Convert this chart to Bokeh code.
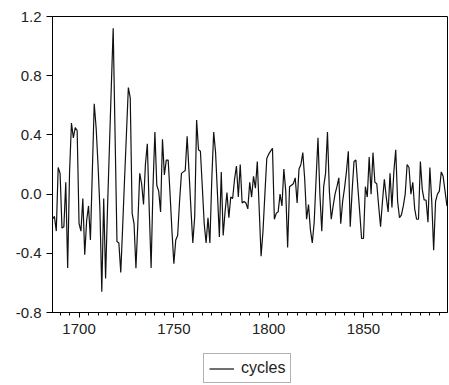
from bokeh.plotting import figure
from bokeh.layouts import column
from bokeh.models import FixedTicker, PrintfTickFormatter, Legend, LegendItem, Range1d
from bokeh.embed import file_html
from bokeh.resources import INLINE

years = list(range(1686, 1895))
cycles = [
    -0.17, -0.15, -0.25, 0.18, 0.14, -0.23, -0.22, 0.08, -0.50, 0.15,
    0.48, 0.38, 0.45, 0.43, -0.20, -0.25, -0.03, -0.41, -0.18, -0.08,
    -0.31, 0.15, 0.61, 0.45, 0.20, -0.10, -0.66, -0.03, -0.57, -0.10,
    0.31, 0.72, 1.12, 0.40, -0.32, -0.33, -0.53, -0.22, 0.10, 0.41,
    0.72, 0.65, -0.13, -0.20, -0.50, -0.20, 0.14, 0.07, -0.07, 0.20,
    0.34, -0.10, -0.50, 0.05, 0.42, 0.06, 0.02, -0.12, 0.37, 0.13,
    0.23, 0.23, 0.00, -0.25, -0.47, -0.31, -0.28, -0.05, 0.14, 0.15,
    0.16, 0.39, 0.15, -0.10, -0.33, -0.15, 0.50, 0.30, 0.29, 0.05,
    -0.20, -0.33, -0.16, -0.33, 0.10, 0.42, 0.28, 0.00, -0.29, 0.15,
    -0.28, -0.12, 0.01, -0.16, -0.02, -0.03, 0.10, 0.19, -0.02, 0.20,
    -0.06, -0.05, -0.06, -0.10, 0.08, -0.02, 0.12, 0.04, 0.22, -0.10,
    -0.42, -0.25, 0.00, 0.24, 0.27, 0.29, 0.31, -0.17, -0.13, -0.12,
    0.00, -0.08, 0.17, 0.02, -0.36, 0.05, 0.06, 0.07, 0.11, -0.06,
    0.17, 0.20, 0.28, 0.10, -0.17, -0.07, -0.24, -0.33, -0.19, 0.10,
    0.38, 0.00, -0.25, 0.05, 0.14, 0.42, 0.02, -0.17, -0.08, 0.00,
    0.05, 0.11, -0.20, -0.05, 0.04, 0.15, 0.29, -0.22, 0.02, 0.22,
    0.23, 0.05, -0.12, -0.30, -0.30, 0.05, -0.02, 0.25, 0.00, 0.28,
    0.08, 0.07, -0.08, -0.22, -0.05, 0.10, -0.02, -0.12, 0.14, -0.09,
    0.15, 0.30, -0.05, -0.16, -0.14, -0.08, 0.00, 0.20, 0.18, 0.00,
    0.08, -0.10, -0.17, -0.17, 0.22, 0.03, -0.04, -0.04, -0.19, 0.18,
    -0.05, -0.38, -0.05, 0.00, 0.02, 0.15, 0.12, 0.02, -0.08,
]
x_major = [1700, 1750, 1800, 1850]
x_minor = list(range(1690, 1895, 5))
y_ticks = [-0.8, -0.4, 0.0, 0.4, 0.8, 1.2]
series_name = "cycles"

FONT = "Liberation Sans"
LINE_COLOR = "#111111"

p = figure(width=449, height=348, output_backend="svg", toolbar_location=None,
           x_range=Range1d(1686, 1894.3), y_range=Range1d(-0.8, 1.2),
           min_border_left=52, min_border_right=2, min_border_top=16,
           min_border_bottom=36)
p.background_fill_color = "white"
p.border_fill_color = "white"
p.outline_line_color = "black"
p.outline_line_width = 1
p.grid.visible = False

r = p.line(years, cycles, line_color=LINE_COLOR, line_width=1.2)

p.xaxis.ticker = FixedTicker(ticks=x_major, minor_ticks=x_minor)
p.yaxis.ticker = FixedTicker(ticks=y_ticks)
p.yaxis.formatter = PrintfTickFormatter(format="%.1f")

for ax in (p.xaxis, p.yaxis):
    ax.axis_line_color = "black"
    ax.major_tick_line_color = "black"
    ax.major_tick_in = 0
    ax.major_label_text_font = FONT
    ax.major_label_text_font_size = "15px"
    ax.major_label_text_color = "#222222"

p.xaxis.major_tick_out = 5
p.xaxis.minor_tick_in = 0
p.xaxis.minor_tick_out = 3
p.xaxis.minor_tick_line_color = "black"
p.xaxis.major_label_standoff = 6
p.yaxis.major_tick_out = 6
p.yaxis.minor_tick_line_color = None
p.yaxis.major_label_standoff = 5

# legend-only strip below the chart (same series, drawn out of view so only
# the legend swatch shows)
q = figure(width=449, height=37, output_backend="svg", toolbar_location=None,
           x_range=Range1d(0, 1), y_range=Range1d(0, 1),
           min_border_left=0, min_border_right=0, min_border_top=0,
           min_border_bottom=0)
q.axis.visible = False
q.grid.visible = False
q.outline_line_color = None
q.background_fill_color = "white"
q.border_fill_color = "white"
lr = q.line(years, cycles, line_color=LINE_COLOR, line_width=1.2)

legend = Legend(items=[LegendItem(label=series_name, renderers=[lr])],
                location=(151, 2), orientation="horizontal",
                border_line_color="#666666", border_line_width=1,
                padding=5, margin=0, spacing=0,
                label_text_font=FONT, label_text_font_size="16px",
                label_text_color="#222222",
                glyph_width=25, glyph_height=15, label_height=15,
                label_standoff=7, background_fill_alpha=1)
q.add_layout(legend, "center")

layout = column(p, q, spacing=0)
open("out.html", "w").write(file_html(layout, INLINE))
